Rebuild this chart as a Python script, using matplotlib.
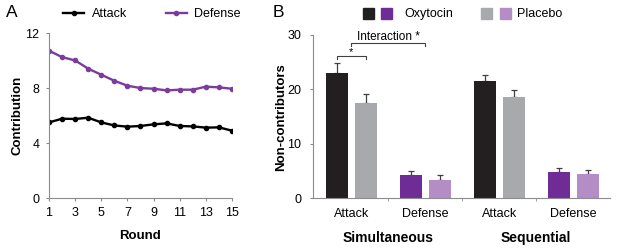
import numpy as np
import matplotlib.pyplot as plt

plt.rcParams['font.family'] = ['Liberation Sans', 'DejaVu Sans']

# panel A: contribution per round
rounds = np.arange(1, 16)
attack = [5.50, 5.77, 5.75, 5.84, 5.50, 5.28, 5.19, 5.24, 5.36, 5.43, 5.24, 5.21, 5.12, 5.14, 4.90]
defense = [10.72, 10.25, 10.01, 9.41, 8.97, 8.53, 8.17, 8.00, 7.95, 7.83, 7.88, 7.88, 8.10, 8.05, 7.95]

# panel B: non-contributors
categories = ["Attack", "Defense", "Attack", "Defense"]
groups = ["Simultaneous", "Sequential"]
oxytocin = [23.1, 4.35, 21.5, 4.9]
oxytocin_err = [1.7, 0.6, 1.15, 0.7]
placebo = [17.45, 3.45, 18.7, 4.45]
placebo_err = [1.65, 0.85, 1.25, 0.85]

oxy_colors = ["#231f20", "#702c96", "#231f20", "#702c96"]
pla_colors = ["#a7a9ac", "#b48cc6", "#a7a9ac", "#b48cc6"]
purple_line = "#7b3c9e"
spine_col = "#8c8c8c"
fs = 9
fs_bold = 9.5

fig = plt.figure(figsize=(6.17, 2.48), dpi=100)

# ---- A ----
axA = fig.add_axes([0.0794, 0.2016, 0.2966, 0.665])
axA.plot(rounds, attack, color="black", lw=1.7, marker="o", ms=3, label="Attack")
axA.plot(rounds, defense, color=purple_line, lw=1.7, marker="o", ms=3, label="Defense")
axA.set_xlim(1, 15)
axA.set_ylim(0, 12)
axA.set_xticks(range(1, 16, 2))
axA.set_yticks([0, 4, 8, 12])
axA.set_xlabel("Round", fontsize=fs_bold, fontweight="bold", labelpad=8)
axA.set_ylabel("Contribution", fontsize=fs_bold, fontweight="bold", labelpad=1)
for s in ["top", "right"]:
    axA.spines[s].set_visible(False)
for s in ["left", "bottom"]:
    axA.spines[s].set_color(spine_col)
axA.tick_params(labelsize=fs, length=2.5, color=spine_col, pad=4)
axA.tick_params(axis="y", pad=4.5)
axA.legend(loc="center left", bbox_to_anchor=(0.102, 0.944), bbox_transform=fig.transFigure,
           ncol=2, frameon=False, fontsize=fs, handlelength=1.7, columnspacing=3.1,
           borderaxespad=0, borderpad=0, handletextpad=0.6)
fig.text(0.010, 0.98, "A", fontsize=12.5, va="top")

# ---- B ----
axB = fig.add_axes([0.507, 0.2, 0.482, 0.659])
x = np.arange(len(categories))
w = 0.30
off = 0.195
axB.bar(x - off, oxytocin, w, color=oxy_colors, zorder=2)
axB.bar(x + off, placebo, w, color=pla_colors, zorder=2)
axB.errorbar(x - off, oxytocin, yerr=[np.zeros(4), oxytocin_err], fmt="none",
             ecolor="#404040", elinewidth=0.9, capsize=2, capthick=0.9, zorder=1)
axB.errorbar(x + off, placebo, yerr=[np.zeros(4), placebo_err], fmt="none",
             ecolor="#404040", elinewidth=0.9, capsize=2, capthick=0.9, zorder=1)
axB.set_xlim(-0.52, 3.5)
axB.set_ylim(0, 30)
axB.set_yticks([0, 10, 20, 30])
axB.set_xticks(x)
axB.set_xticklabels(categories)
axB.set_xticks([0.5, 1.5, 2.5], minor=True)
axB.tick_params(axis="x", which="major", length=0, labelsize=fs, pad=7)
axB.tick_params(axis="x", which="minor", length=2.5, color=spine_col)
axB.tick_params(axis="y", labelsize=fs, length=2.5, color=spine_col, pad=6)
axB.set_ylabel("Non-contributors", fontsize=fs_bold, fontweight="bold", labelpad=0)
for s in ["top", "right"]:
    axB.spines[s].set_visible(False)
for s in ["left", "bottom"]:
    axB.spines[s].set_color(spine_col)
for i, g in enumerate(groups):
    axB.text(2 * i + 0.5, -0.245, g, transform=axB.get_xaxis_transform(),
             ha="center", va="center", fontsize=fs_bold + 0.5, fontweight="bold")

# significance brackets
bk = "#404040"
axB.plot([-off, -off, off, off], [25.6, 26.1, 26.1, 25.6], color=bk, lw=0.8, clip_on=False)
axB.text(0, 26.0, "*", ha="center", va="bottom", fontsize=8)
axB.plot([0, 0, 1, 1], [27.9, 28.5, 28.5, 27.9], color=bk, lw=0.8, clip_on=False)
axB.text(0.5, 28.6, "Interaction *", ha="center", va="bottom", fontsize=8.5)

# legend with paired squares
def sq(xf, col):
    fig.patches.append(plt.Rectangle((xf, 0.923), 0.0178, 0.044, transform=fig.transFigure,
                                     color=col, figure=fig))
sq(0.588, "#231f20")
sq(0.6175, "#702c96")
fig.text(0.656, 0.944, "Oxytocin", fontsize=fs, va="center")
sq(0.7796, "#a7a9ac")
sq(0.8096, "#b48cc6")
fig.text(0.838, 0.944, "Placebo", fontsize=fs, va="center")
fig.text(0.442, 0.98, "B", fontsize=12.5, va="top")

fig.savefig("out.png", dpi=100)
